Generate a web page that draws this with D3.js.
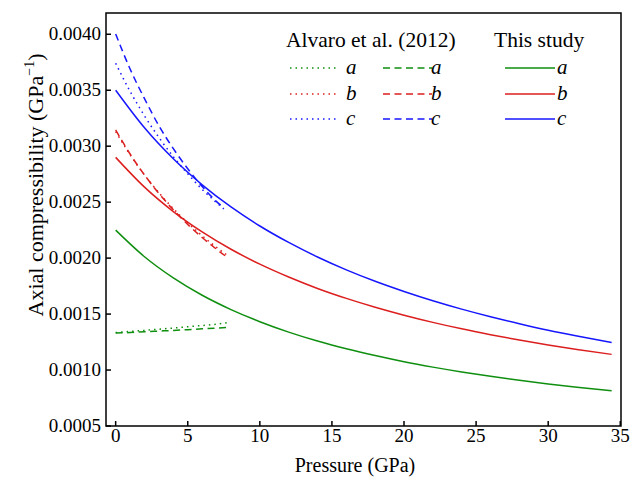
<!DOCTYPE html>
<html>
<head>
<meta charset="utf-8">
<script src="https://cdn.jsdelivr.net/npm/d3@7"></script>
<style>
  body { margin: 0; background: #fff; }
  text { font-family: "Liberation Serif", "Times New Roman", serif; fill: #000; }
  .frame { fill: none; stroke: #000; stroke-width: 1.5; }
  .tick-line { stroke: #000; stroke-width: 1.5; }
  .series { fill: none; stroke-width: 1.5; }
</style>
</head>
<body>
<svg width="632" height="482"></svg>
<script>
// pressure grid (GPa) and axial compressibility (GPa^-1)
const studyP = [0, 2, 4, 6, 8, 10, 12, 14, 16, 18, 20, 22, 24, 26, 28, 30, 32, 34.4];
const studyA = [0.00225, 0.002012, 0.001823, 0.001668, 0.00154, 0.001432, 0.001339, 0.001259, 0.00119,
  0.001129, 0.001074, 0.001026, 0.000983, 0.000944, 0.000908, 0.000876, 0.000847, 0.000815];
const studyB = [0.0029, 0.002634, 0.002416, 0.002234, 0.002079, 0.001946, 0.001831, 0.001729, 0.00164,
  0.001561, 0.00149, 0.001426, 0.001368, 0.001316, 0.001268, 0.001224, 0.001184, 0.00114];
const studyC = [0.0035, 0.003164, 0.002887, 0.002655, 0.002457, 0.002287, 0.00214, 0.00201, 0.001895,
  0.001793, 0.001702, 0.001619, 0.001544, 0.001476, 0.001414, 0.001356, 0.001304, 0.001246];

const alvaroP = [0, 1, 2, 3, 4, 5, 6, 7, 7.8];
const dottedA = [0.001335, 0.001345, 0.001355, 0.001365, 0.001375, 0.001387, 0.001398, 0.00141, 0.001425];
const dashedA = [0.00133, 0.001335, 0.001342, 0.001348, 0.001354, 0.001361, 0.001368, 0.001375, 0.00138];
const dottedB = [0.00313, 0.002924, 0.002743, 0.002584, 0.002442, 0.002315, 0.0022, 0.002096, 0.00202];
const dashedB = [0.003145, 0.00293, 0.002743, 0.002578, 0.002432, 0.002301, 0.002184, 0.002079, 0.002001];
const alvaroCP = [0, 1, 2, 3, 4, 5, 6, 7, 7.5];
const dottedC = [0.003741, 0.00349, 0.003271, 0.003078, 0.002906, 0.002753, 0.002614, 0.002495, 0.00244];
const dashedC = [0.004003, 0.00369, 0.003425, 0.003182, 0.002978, 0.002799, 0.00264, 0.002505, 0.00245];

const xTicks = [0, 5, 10, 15, 20, 25, 30, 35];
const yTicks = [0.0005, 0.001, 0.0015, 0.002, 0.0025, 0.003, 0.0035, 0.004];
const axes = ["a", "b", "c"];

const COLORS = { a: "#0f8f0f", b: "#dc1e1e", c: "#1616ff" };
const DASH = { dotted: "1.5,4", dashed: "7,4.5", solid: null };

const frame = { left: 106, right: 621, top: 13, bottom: 426 };
const svg = d3.select("svg");

const x = d3.scaleLinear().domain([-0.67, 35.05]).range([frame.left, frame.right]);
const y = d3.scaleLinear().domain([0.0005, 0.00419]).range([frame.bottom, frame.top]);

const line = d3
  .line()
  .x(d => x(d[0]))
  .y(d => y(d[1]))
  .curve(d3.curveMonotoneX);

const series = [
  { p: alvaroP, v: dottedA, key: "a", style: "dotted" },
  { p: alvaroP, v: dashedA, key: "a", style: "dashed" },
  { p: alvaroP, v: dottedB, key: "b", style: "dotted" },
  { p: alvaroP, v: dashedB, key: "b", style: "dashed" },
  { p: alvaroCP, v: dottedC, key: "c", style: "dotted" },
  { p: alvaroCP, v: dashedC, key: "c", style: "dashed" },
  { p: studyP, v: studyA, key: "a", style: "solid" },
  { p: studyP, v: studyB, key: "b", style: "solid" },
  { p: studyP, v: studyC, key: "c", style: "solid" }
];

svg
  .append("g")
  .selectAll("path")
  .data(series)
  .enter()
  .append("path")
  .attr("class", "series")
  .attr("d", d => line(d.p.map((p, i) => [p, d.v[i]])))
  .style("stroke", d => COLORS[d.key])
  .style("stroke-dasharray", d => DASH[d.style]);

// frame
svg
  .append("rect")
  .attr("class", "frame")
  .attr("x", frame.left)
  .attr("y", frame.top)
  .attr("width", frame.right - frame.left)
  .attr("height", frame.bottom - frame.top);

// ticks point inward
const tickLen = 5;
svg
  .append("g")
  .selectAll("line")
  .data(xTicks)
  .enter()
  .append("line")
  .attr("class", "tick-line")
  .attr("x1", d => x(d))
  .attr("x2", d => x(d))
  .attr("y1", frame.bottom)
  .attr("y2", frame.bottom - tickLen);

svg
  .append("g")
  .selectAll("text")
  .data(xTicks)
  .enter()
  .append("text")
  .attr("x", d => x(d))
  .attr("y", 442)
  .attr("text-anchor", "middle")
  .style("font-size", "19px")
  .text(d => d);

svg
  .append("g")
  .selectAll("line")
  .data(yTicks)
  .enter()
  .append("line")
  .attr("class", "tick-line")
  .attr("x1", frame.left)
  .attr("x2", frame.left + tickLen)
  .attr("y1", d => y(d))
  .attr("y2", d => y(d));

svg
  .append("g")
  .selectAll("text")
  .data(yTicks)
  .enter()
  .append("text")
  .attr("x", 101)
  .attr("y", d => y(d) + 6)
  .attr("text-anchor", "end")
  .style("font-size", "19px")
  .text(d => d.toFixed(4));

// axis titles
svg
  .append("text")
  .attr("x", 355)
  .attr("y", 472)
  .attr("text-anchor", "middle")
  .style("font-size", "20px")
  .text("Pressure (GPa)");

const yTitle = svg
  .append("text")
  .attr("transform", "translate(43,185) rotate(-90)")
  .attr("text-anchor", "middle")
  .style("font-size", "22px");
yTitle.append("tspan").text("Axial compressibility (GPa");
yTitle.append("tspan").attr("dy", -9).style("font-size", "14px").text("\u22121");
yTitle.append("tspan").attr("dy", 9).text(")");

// legend
const legend = svg.append("g").attr("class", "legend");
legend
  .append("text")
  .attr("x", 286)
  .attr("y", 47)
  .style("font-size", "21.5px")
  .text("Alvaro et al. (2012)");
legend
  .append("text")
  .attr("x", 494)
  .attr("y", 47)
  .style("font-size", "21.5px")
  .text("This study");

const legendCols = [
  { style: "dotted", x1: 290, x2: 337, tx: 346 },
  { style: "dashed", x1: 383, x2: 432, tx: 431 },
  { style: "solid", x1: 505, x2: 555, tx: 557 }
];
const rowY = { a: 68, b: 94, c: 119 };

legendCols.forEach(col => {
  const rows = legend
    .append("g")
    .selectAll("g")
    .data(axes)
    .enter()
    .append("g");
  rows
    .append("line")
    .attr("x1", col.x1)
    .attr("x2", col.x2)
    .attr("y1", d => rowY[d])
    .attr("y2", d => rowY[d])
    .style("stroke", d => COLORS[d])
    .style("stroke-width", 1.5)
    .style("stroke-dasharray", DASH[col.style]);
  rows
    .append("text")
    .attr("x", col.tx)
    .attr("y", d => rowY[d] + 6)
    .style("font-size", "21px")
    .style("font-style", "italic")
    .text(d => d);
});
</script>
</body>
</html>
